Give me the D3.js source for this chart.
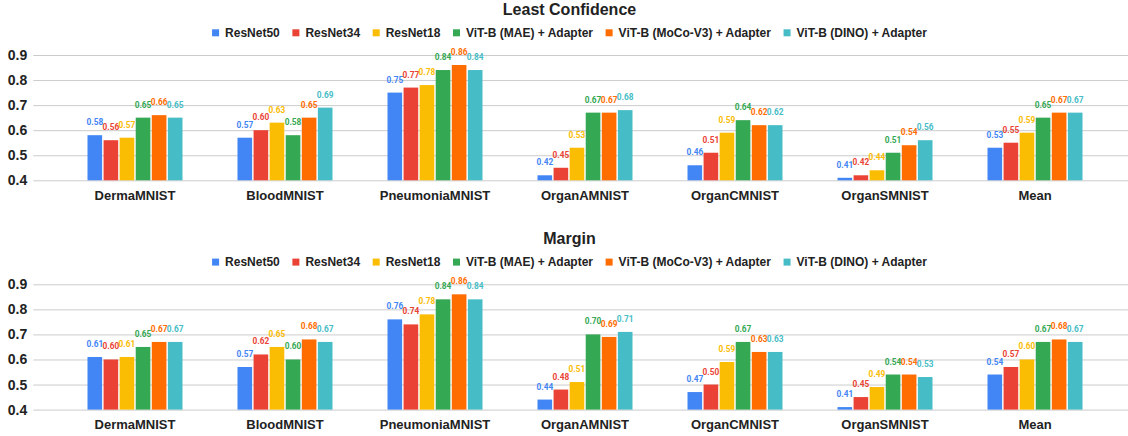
<!DOCTYPE html>
<html>
<head>
<meta charset="utf-8">
<script src="https://cdn.jsdelivr.net/npm/d3@7"></script>
<style>
  html, body { margin: 0; padding: 0; background: #ffffff; }
  svg { display: block; }
  .title { font-family: "Liberation Sans", Arial, sans-serif; font-weight: bold; font-size: 16px; fill: #222; }
  .legend text { font-family: "Liberation Sans", Arial, sans-serif; font-weight: bold; font-size: 12px; fill: #222; }
  .yaxis text { font-family: "Liberation Sans", Arial, sans-serif; font-weight: bold; font-size: 14px; fill: #222; }
  .xaxis text { font-family: "Liberation Sans", Arial, sans-serif; font-weight: bold; font-size: 13px; fill: #222; }
  .vlabel { font-family: Roboto, "Liberation Sans", Arial, sans-serif; font-weight: 700; font-size: 8.3px; }
</style>
</head>
<body>
<svg id="chart" width="1128" height="436"></svg>
<script>
// Datasets (x-axis categories)
const categories = ["DermaMNIST", "BloodMNIST", "PneumoniaMNIST", "OrganAMNIST", "OrganCMNIST", "OrganSMNIST", "Mean"];

// Models compared in each group
const seriesNames = ["ResNet50", "ResNet34", "ResNet18", "ViT-B (MAE) + Adapter", "ViT-B (MoCo-V3) + Adapter", "ViT-B (DINO) + Adapter"];
const seriesColors = ["#4285F4", "#EA4335", "#FBBC04", "#34A853", "#FF6D01", "#46BDC6"];

// Least Confidence scores, one row per category, one column per model
const leastConfidence = [
  [0.58, 0.56, 0.57, 0.65, 0.66, 0.65],
  [0.57, 0.60, 0.63, 0.58, 0.65, 0.69],
  [0.75, 0.77, 0.78, 0.84, 0.86, 0.84],
  [0.42, 0.45, 0.53, 0.67, 0.67, 0.68],
  [0.46, 0.51, 0.59, 0.64, 0.62, 0.62],
  [0.41, 0.42, 0.44, 0.51, 0.54, 0.56],
  [0.53, 0.55, 0.59, 0.65, 0.67, 0.67]
];

// Margin scores, same layout
const margin = [
  [0.61, 0.60, 0.61, 0.65, 0.67, 0.67],
  [0.57, 0.62, 0.65, 0.60, 0.68, 0.67],
  [0.76, 0.74, 0.78, 0.84, 0.86, 0.84],
  [0.44, 0.48, 0.51, 0.70, 0.69, 0.71],
  [0.47, 0.50, 0.59, 0.67, 0.63, 0.63],
  [0.41, 0.45, 0.49, 0.54, 0.54, 0.53],
  [0.54, 0.57, 0.60, 0.67, 0.68, 0.67]
];

// Shared value axis
const yTicks = [0.4, 0.5, 0.6, 0.7, 0.8, 0.9];

const panels = [
  { title: "Least Confidence", values: leastConfidence, offset: 0 },
  { title: "Margin", values: margin, offset: 229.3 }
];

const svg = d3.select("#chart");
const centerX = 569.5;
const gridLeft = 33.3, gridRight = 1128;

const y = d3.scaleLinear().domain([0.4, 0.9]).range([180.3, 55]);
const x0 = d3.scaleBand().domain(categories).range([60, 1110])
  .paddingInner(0.3667).paddingOuter(0.1833);
const x1 = d3.scaleBand().domain(seriesNames).range([0, x0.bandwidth()])
  .paddingInner(0.09).paddingOuter(0);
const color = d3.scaleOrdinal().domain(seriesNames).range(seriesColors);
const fmt = d3.format(".2f");

panels.forEach(panel => {
  const g = svg.append("g").attr("transform", `translate(0,${panel.offset})`);

  // Title
  g.append("text").attr("class", "title")
    .attr("x", centerX).attr("y", 15)
    .attr("text-anchor", "middle")
    .text(panel.title);

  // Legend, laid out by measured text width then centred
  const legend = g.append("g").attr("class", "legend");
  let cursor = 0;
  seriesNames.forEach((name, i) => {
    const item = legend.append("g").attr("transform", `translate(${cursor},0)`);
    item.append("rect").attr("x", 0).attr("y", 29.3).attr("width", 7).attr("height", 7)
      .attr("fill", color(name));
    const t = item.append("text").attr("x", 13).attr("y", 37).text(name);
    const w = t.node().getComputedTextLength();
    cursor += 13 + w + (i < seriesNames.length - 1 ? 12.6 : 0);
  });
  legend.attr("transform", `translate(${centerX - cursor / 2},0)`);

  // Value axis with gridlines
  const yAxis = g.append("g").attr("class", "yaxis")
    .attr("transform", `translate(${gridLeft},0)`)
    .call(d3.axisLeft(y).tickValues(yTicks).tickFormat(d3.format(".1f"))
      .tickSizeInner(-(gridRight - gridLeft)).tickSizeOuter(0).tickPadding(6));
  yAxis.select(".domain").remove();
  yAxis.selectAll(".tick line").attr("stroke", "#cccccc").attr("stroke-width", 1);

  // Category axis
  const xAxis = g.append("g").attr("class", "xaxis")
    .attr("transform", `translate(0,${y(0.4)})`)
    .call(d3.axisBottom(x0).tickSize(0).tickPadding(10));
  xAxis.select(".domain").remove();

  // Bars and value labels
  const groups = g.append("g").selectAll("g.group")
    .data(categories.map((c, ci) => ({ category: c, vals: panel.values[ci] })))
    .join("g").attr("class", "group")
    .attr("transform", d => `translate(${x0(d.category)},0)`);

  groups.selectAll("rect")
    .data(d => d.vals.map((v, si) => ({ series: seriesNames[si], value: v })))
    .join("rect")
    .attr("x", d => x1(d.series))
    .attr("y", d => y(d.value))
    .attr("width", x1.bandwidth())
    .attr("height", d => y(0.4) - y(d.value))
    .attr("fill", d => color(d.series));

  groups.selectAll("text.vlabel")
    .data(d => d.vals.map((v, si) => ({ series: seriesNames[si], value: v })))
    .join("text").attr("class", "vlabel")
    .attr("x", d => x1(d.series) + x1.bandwidth() / 2)
    .attr("y", d => y(d.value) - 10)
    .attr("text-anchor", "middle")
    .attr("fill", d => color(d.series))
    .text(d => fmt(d.value));
});
</script>
</body>
</html>
